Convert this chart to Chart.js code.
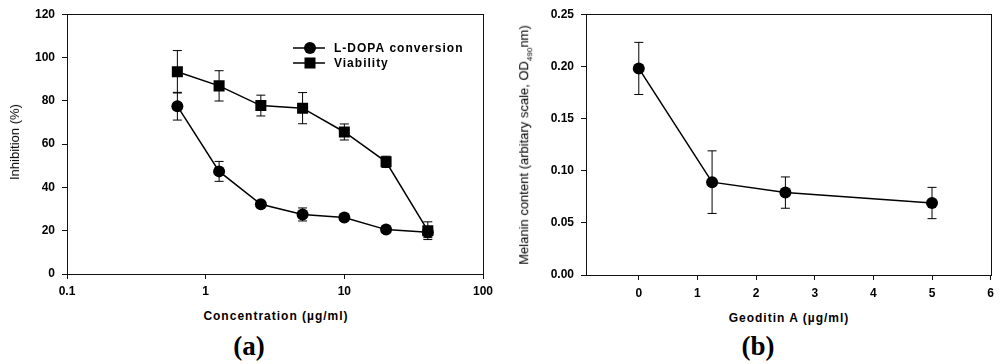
<!DOCTYPE html>
<html lang="en">
<head>
  <meta charset="UTF-8" />
  <title>Geoditin A</title>
  <script src="https://cdn.jsdelivr.net/npm/chart.js"></script>
  <style>
    body { margin: 0; background: #fff; }
    #wrap { position: relative; width: 1000px; height: 364px; overflow: hidden; font-family: "Liberation Sans", Arial, sans-serif; color: #000; }
    canvas { position: absolute; top: 0; }
    .lbl { position: absolute; white-space: nowrap; transform: translate(-50%, -50%); font-size: 12px; line-height: 14px; }
    .rot { transform: translate(-50%, -50%) rotate(-90deg); font-size: 13px; }
    .bold { font-weight: bold; letter-spacing: 1px; }
    .panel { font-family: "Liberation Serif", "Times New Roman", serif; font-weight: bold; font-size: 27px; line-height: 30px; }
    sub { font-size: 8px; }
  </style>
</head>
<body>
<div id="wrap">
  <canvas id="chartA" width="500" height="300" style="left:0"></canvas>
  <canvas id="chartB" width="500" height="300" style="left:500px"></canvas>

  <div class="lbl rot" style="left:15px; top:142px">Inhibition (%)</div>
  <div class="lbl bold" style="left:276px; top:316px">Concentration (&micro;g/ml)</div>
  <div class="lbl panel" style="left:249px; top:346px">(a)</div>

  <div class="lbl rot" style="left:527px; top:145px">Melanin content (arbitary scale, OD<sub>490</sub>nm)</div>
  <div class="lbl bold" style="left:789px; top:318px">Geoditin A (&micro;g/ml)</div>
  <div class="lbl panel" style="left:758px; top:346px">(b)</div>
</div>
<script>
  // panel (a)
  const doses = [0.625, 1.25, 2.5, 5, 10, 20, 40];
  const ldopa = [77.5, 47.4, 32.2, 27.5, 26.1, 20.5, 19.3];
  const ldopaErr = [6.4, 4.6, 1.2, 3.0, 1.5, 1.0, 2.5];
  const viability = [93.4, 86.9, 77.8, 76.6, 65.6, 51.8, 20.0];
  const viabilityErr = [9.8, 7.0, 4.8, 7.2, 3.7, 2.6, 4.1];
  const logTicks = [0.1, 1, 10, 100];

  // panel (b)
  const geoDoses = [0, 1.25, 2.5, 5];
  const melanin = [0.198, 0.089, 0.079, 0.069];
  const melaninErr = [0.025, 0.030, 0.015, 0.015];
  const geoTicks = [0, 1, 2, 3, 4, 5, 6];

  Chart.defaults.font.family = '"Liberation Sans", Arial, sans-serif';
  Chart.defaults.font.size = 12;
  Chart.defaults.font.weight = 'bold';
  Chart.defaults.color = '#000';

  function toPoints(xs, ys) {
    return xs.map((x, i) => ({ x: x, y: ys[i] }));
  }

  // error bars are drawn under the markers
  const errorBars = {
    id: 'errorBars',
    beforeDatasetsDraw(chart) {
      const ctx = chart.ctx;
      const xs = chart.scales.x, ys = chart.scales.y;
      ctx.save();
      ctx.strokeStyle = '#000';
      ctx.lineWidth = 1;
      chart.data.datasets.forEach(ds => {
        ds.data.forEach((p, i) => {
          const e = ds.errors[i];
          const px = xs.getPixelForValue(p.x);
          const top = ys.getPixelForValue(p.y + e);
          const bot = ys.getPixelForValue(p.y - e);
          ctx.beginPath();
          ctx.moveTo(px, top); ctx.lineTo(px, bot);
          ctx.moveTo(px - 4.5, top); ctx.lineTo(px + 4.5, top);
          ctx.moveTo(px - 4.5, bot); ctx.lineTo(px + 4.5, bot);
          ctx.stroke();
        });
      });
      ctx.restore();
    }
  };

  // plot frame on all four sides
  const frame = {
    id: 'frame',
    afterDraw(chart) {
      const a = chart.chartArea, ctx = chart.ctx;
      ctx.save();
      ctx.strokeStyle = '#111';
      ctx.lineWidth = 1;
      ctx.strokeRect(Math.round(a.left) + 0.5, Math.round(a.top) + 0.5, Math.round(a.right - a.left), Math.round(a.bottom - a.top));
      ctx.restore();
    }
  };

  const legendBox = {
    id: 'legendBox',
    afterDraw(chart) {
      const ctx = chart.ctx;
      ctx.save();
      chart.data.datasets.forEach((ds, i) => {
        const y = 48 + i * 15;
        ctx.strokeStyle = '#000';
        ctx.lineWidth = 1.5;
        ctx.beginPath();
        ctx.moveTo(293, y); ctx.lineTo(325, y);
        ctx.stroke();
        ctx.fillStyle = '#000';
        if (ds.pointStyle === 'rect') {
          ctx.fillRect(304.5, y - 5.5, 11, 11);
        } else {
          ctx.beginPath();
          ctx.arc(310, y, 6, 0, Math.PI * 2);
          ctx.fill();
        }
        ctx.font = 'bold 12px "Liberation Sans", Arial, sans-serif';
        ctx.letterSpacing = '1px';
        ctx.textBaseline = 'middle';
        ctx.fillText(ds.label, 334, y + 0.5);
      });
      ctx.restore();
    }
  };

  function series(label, pts, errs, style, r) {
    return {
      label: label,
      data: pts,
      errors: errs,
      showLine: true,
      borderColor: '#000',
      borderWidth: 1.5,
      backgroundColor: '#000',
      pointBackgroundColor: '#000',
      pointBorderColor: '#000',
      pointBorderWidth: 0,
      pointStyle: style,
      pointRadius: r,
      pointHoverRadius: r
    };
  }

  function axisGrid() {
    return { display: true, drawOnChartArea: false, drawTicks: true, tickLength: 5, color: '#111', lineWidth: 1 };
  }

  new Chart(document.getElementById('chartA'), {
    type: 'scatter',
    data: {
      datasets: [
        series('L-DOPA conversion', toPoints(doses, ldopa), ldopaErr, 'circle', 6),
        series('Viability', toPoints(doses, viability), viabilityErr, 'rect', 7.8)
      ]
    },
    options: {
      responsive: false,
      animation: false,
      layout: { padding: { left: 0, top: 11, right: 17, bottom: 0 } },
      plugins: { legend: { display: false }, tooltip: { enabled: false } },
      scales: {
        x: {
          type: 'logarithmic',
          min: 0.1,
          max: 100,
          grid: axisGrid(),
          border: { display: false },
          afterBuildTicks: s => { s.ticks = logTicks.map(v => ({ value: v })); },
          afterFit: s => { s.height = 26; },
          ticks: { padding: 5, maxRotation: 0, autoSkip: false, callback: v => String(v) }
        },
        y: {
          min: 0,
          max: 120,
          grid: axisGrid(),
          border: { display: false },
          afterFit: s => { s.width = 67; },
          ticks: { stepSize: 20, padding: 7 }
        }
      }
    },
    plugins: [errorBars, frame, legendBox]
  });

  new Chart(document.getElementById('chartB'), {
    type: 'scatter',
    data: {
      datasets: [
        series('Melanin', toPoints(geoDoses, melanin), melaninErr, 'circle', 6)
      ]
    },
    options: {
      responsive: false,
      animation: false,
      layout: { padding: { left: 0, top: 14, right: 9, bottom: 0 } },
      plugins: { legend: { display: false }, tooltip: { enabled: false } },
      scales: {
        x: {
          type: 'linear',
          min: -0.9,
          max: 6,
          grid: axisGrid(),
          border: { display: false },
          afterBuildTicks: s => { s.ticks = geoTicks.map(v => ({ value: v })); },
          afterFit: s => { s.height = 25; },
          ticks: { padding: 6, maxRotation: 0, autoSkip: false }
        },
        y: {
          min: 0,
          max: 0.25,
          grid: axisGrid(),
          border: { display: false },
          afterFit: s => { s.width = 86; },
          ticks: { stepSize: 0.05, padding: 7, callback: v => v.toFixed(2) }
        }
      }
    },
    plugins: [errorBars, frame]
  });
</script>
</body>
</html>
